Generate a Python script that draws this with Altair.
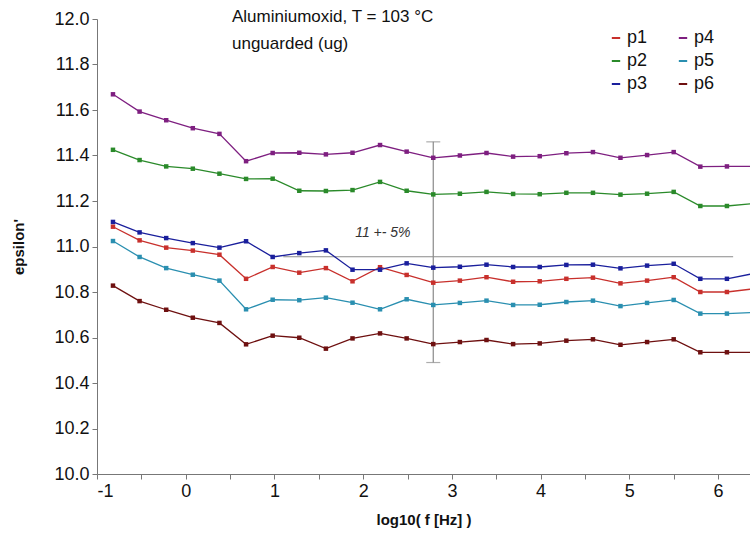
import altair as alt
import pandas as pd

# log10 of the measuring frequencies (Hz)
log_f = [-0.82, -0.52, -0.22, 0.08, 0.38, 0.68, 0.98, 1.28, 1.58, 1.88, 2.19, 2.49,
         2.79, 3.09, 3.39, 3.69, 3.99, 4.29, 4.59, 4.90, 5.20, 5.50, 5.80, 6.10, 6.40]

# permittivity epsilon' per probe position
p1 = [11.087, 11.027, 10.995, 10.982, 10.964, 10.858, 10.910, 10.885, 10.905, 10.847,
      10.909, 10.875, 10.841, 10.850, 10.865, 10.845, 10.847, 10.858, 10.863, 10.838,
      10.850, 10.865, 10.800, 10.800, 10.814]
p2 = [11.425, 11.380, 11.352, 11.342, 11.320, 11.297, 11.298, 11.245, 11.244, 11.248,
      11.284, 11.245, 11.229, 11.232, 11.240, 11.231, 11.230, 11.236, 11.236, 11.228,
      11.232, 11.240, 11.178, 11.178, 11.189]
p3 = [11.108, 11.062, 11.037, 11.015, 10.995, 11.023, 10.954, 10.971, 10.983, 10.898,
      10.898, 10.926, 10.907, 10.911, 10.920, 10.910, 10.910, 10.919, 10.920, 10.904,
      10.916, 10.924, 10.858, 10.858, 10.881]
p4 = [11.669, 11.593, 11.555, 11.520, 11.495, 11.375, 11.411, 11.412, 11.405, 11.412,
      11.446, 11.417, 11.390, 11.400, 11.411, 11.395, 11.397, 11.410, 11.415, 11.390,
      11.402, 11.415, 11.351, 11.352, 11.352]
p5 = [11.024, 10.954, 10.905, 10.876, 10.850, 10.724, 10.766, 10.764, 10.775, 10.753,
      10.724, 10.768, 10.743, 10.752, 10.762, 10.743, 10.744, 10.756, 10.762, 10.738,
      10.752, 10.765, 10.705, 10.705, 10.710]
p6 = [10.828, 10.760, 10.722, 10.687, 10.664, 10.570, 10.608, 10.599, 10.551, 10.596,
      10.618, 10.596, 10.571, 10.580, 10.589, 10.571, 10.574, 10.586, 10.592, 10.568,
      10.580, 10.592, 10.535, 10.535, 10.535]

series = {"p1": p1, "p2": p2, "p3": p3, "p4": p4, "p5": p5, "p6": p6}
colors = {"p1": "#c8302c", "p2": "#2a8a2a", "p3": "#1a1f9c",
          "p4": "#7e1f80", "p5": "#2a8fb0", "p6": "#6e1010"}

# reference band "11 +- 5%"
ref_line_y = 10.955
ref_line_x = [1.10, 6.17]
err_x = 2.79
err_lo, err_hi = 10.49, 11.46
note_x, note_y = 1.91, 11.06
note_text = "11  +- 5%"

title_lines = ["Aluminiumoxid, T = 103 °C", "unguarded (ug)"]

x_ticks = [-1, -0.5, 0, 0.5, 1, 1.5, 2, 2.5, 3, 3.5, 4, 4.5, 5, 5.5, 6]
y_ticks = [10.0, 10.2, 10.4, 10.6, 10.8, 11.0, 11.2, 11.4, 11.6, 11.8, 12.0]

rows = []
for name, vals in series.items():
    for xv, yv in zip(log_f, vals):
        rows.append({"logf": xv, "eps": yv, "probe": name})
df = pd.DataFrame(rows)

probe_names = list(series.keys())
color_scale = alt.Scale(domain=probe_names, range=[colors[k] for k in probe_names])

x_scale = alt.Scale(domain=[-1, 6.36], nice=False, zero=False)
y_scale = alt.Scale(domain=[10.0, 12.0], nice=False, zero=False)

x_enc = alt.X("logf:Q", scale=x_scale, title="log10( f [Hz] )",
              axis=alt.Axis(values=x_ticks,
                            labelExpr="datum.value % 1 == 0 ? '' + datum.value : ''"))
y_enc = alt.Y("eps:Q", scale=y_scale, title="epsilon'",
              axis=alt.Axis(values=y_ticks, format=".1f"))

lines = alt.Chart(df).mark_line(strokeWidth=1.3, clip=True).encode(
    x=x_enc, y=y_enc,
    color=alt.Color("probe:N", scale=color_scale,
                    legend=alt.Legend(orient="none", legendX=510, legendY=10, columns=2,
                                      title=None, symbolType="stroke",
                                      symbolStrokeWidth=2, symbolSize=70,
                                      labelFontSize=18, labelFont="Liberation Sans",
                                      labelColor="#111", rowPadding=5,
                                      columnPadding=26, labelOffset=2)),
    detail="probe:N",
)
points = alt.Chart(df).mark_point(shape="square", filled=True, size=20, opacity=1,
                                  clip=True).encode(
    x="logf:Q", y="eps:Q",
    color=alt.Color("probe:N", scale=color_scale, legend=None),
)

ref_df = pd.DataFrame({"x1": [ref_line_x[0]], "x2": [ref_line_x[1]], "y": [ref_line_y]})
ref_rule = alt.Chart(ref_df).mark_rule(color="#8a8a8a", strokeWidth=1.2).encode(
    x="x1:Q", x2="x2:Q", y="y:Q")

err_df = pd.DataFrame({"x": [err_x], "lo": [err_lo], "hi": [err_hi]})
err_rule = alt.Chart(err_df).mark_rule(color="#8a8a8a", strokeWidth=1.2).encode(
    x="x:Q", y="lo:Q", y2="hi:Q")
cap_df = pd.DataFrame({"x": [err_x, err_x], "y": [err_lo, err_hi]})
caps = alt.Chart(cap_df).mark_tick(color="#8a8a8a", thickness=1.2, size=14,
                                   orient="horizontal").encode(x="x:Q", y="y:Q")

note_df = pd.DataFrame({"x": [note_x], "y": [note_y], "t": [note_text]})
note = alt.Chart(note_df).mark_text(align="left", baseline="middle", fontSize=14,
                                    fontStyle="italic", font="Liberation Sans",
                                    color="#333").encode(x="x:Q", y="y:Q", text="t:N")

head = alt.Chart(pd.DataFrame({"t": ["\n".join(title_lines)]})).mark_text(
    align="left", baseline="top", fontSize=17, lineHeight=27, lineBreak="\n",
    font="Liberation Sans", color="#111",
).encode(x=alt.value(135), y=alt.value(-10), text="t:N")

chart = alt.layer(ref_rule, err_rule, caps, lines, points, note, head).properties(
    width=653, height=455,
    padding={"left": 97, "top": 19, "right": 0, "bottom": 65},
    autosize=alt.AutoSizeParams(type="none"),
).configure_view(stroke=None).configure_axis(
    grid=False, domainColor="#777", tickColor="#777", tickSize=5,
    labelFont="Liberation Sans", labelFontSize=18, labelColor="#111",
    titleFont="Liberation Sans", titleFontSize=15, titleFontWeight="bold",
    titleColor="#111",
).configure_axisY(titlePadding=27, labelPadding=3).configure_axisX(
    titlePadding=12, labelPadding=3)

chart.save("out.html", embed_options={"renderer": "svg", "actions": False})
